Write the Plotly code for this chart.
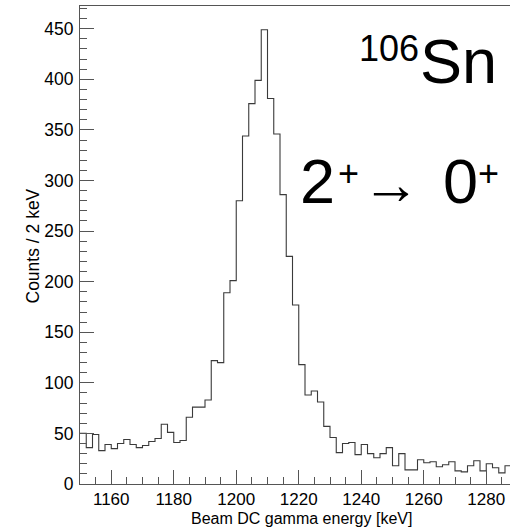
import plotly.graph_objects as go

# ---- data (counts per 2 keV bin, starting at 1150 keV) ----
bin_start = 1150
bin_width = 2
counts = [50, 36, 49, 33, 39, 35, 40, 44, 39, 36,
          38, 42, 45, 59, 51, 41, 43, 66, 76, 76,
          83, 122, 120, 189, 201, 280, 344, 376, 399, 449,
          381, 346, 286, 225, 177, 118, 88, 92, 81, 57,
          46, 31, 40, 41, 29, 39, 30, 26, 30, 36,
          18, 30, 14, 14, 24, 21, 22, 17, 19, 22,
          13, 12, 18, 23, 13, 20, 16, 11, 18]
x_tick_vals = [1160, 1180, 1200, 1220, 1240, 1260, 1280]
y_tick_vals = [0, 50, 100, 150, 200, 250, 300, 350, 400, 450]
x_title = "Beam DC gamma energy [keV]"
y_title = "Counts / 2 keV"

edges = [bin_start + i * bin_width for i in range(len(counts) + 1)]
ys = counts + [counts[-1]]

W, H = 510, 527
L, R, T, B = 80, 0, 6, 43
PW, PH = W - L - R, H - T - B
FONT = "Liberation Sans, Arial, Helvetica, sans-serif"
AX = "#555555"


def px(x):
    return (x - L) / PW


def py(y):
    return (H - B - y) / PH


fig = go.Figure()
fig.add_trace(go.Scatter(
    x=edges, y=ys, mode="lines", line=dict(shape="hv", color="#3a3a3a", width=1.1),
    hoverinfo="skip", showlegend=False))

fig.update_layout(
    width=W, height=H, margin=dict(l=L, r=R, t=T, b=B, pad=0),
    paper_bgcolor="white", plot_bgcolor="white",
    font=dict(family=FONT, size=17.5, color="black"),
    showlegend=False,
    xaxis=dict(range=[1150, 1287.6], tickmode="array", tickvals=x_tick_vals,
               ticks="inside", ticklen=14, tickwidth=1, tickcolor=AX,
               tickfont=dict(size=17),
               showline=True, linecolor=AX, linewidth=1, mirror=True,
               showgrid=False, zeroline=False, ticklabelstandoff=0,
               minor=dict(dtick=5, tick0=0, ticks="inside", ticklen=7, tickcolor=AX,
                          tickwidth=1, showgrid=False)),
    yaxis=dict(range=[0, 472.5], tickmode="array", tickvals=y_tick_vals,
               ticks="inside", ticklen=14, tickwidth=1, tickcolor=AX,
               showline=True, linecolor=AX, linewidth=1, mirror=False,
               showgrid=False, zeroline=False, ticklabelstandoff=2,
               minor=dict(dtick=10, tick0=0, ticks="inside", ticklen=7, tickcolor=AX,
                          tickwidth=1, showgrid=False)),
)

ann = []


def add_text(text, cx, cy, size, angle=0):
    ann.append(dict(text=text, x=px(cx), y=py(cy), xref="paper", yref="paper",
                    xanchor="center", yanchor="middle", showarrow=False,
                    textangle=angle, font=dict(family=FONT, size=size, color="black")))


add_text(x_title, 301.7, 518.0, 16)
add_text(y_title, 33, 246.5, 17.5, angle=-90)
add_text("106", 388.8, 48.3, 36)
add_text("Sn", 458.3, 60.8, 63)
add_text("2", 317.5, 180.8, 63)
add_text("+", 348, 173.5, 36)
add_text("→", 391, 183, 58)
add_text("0", 460, 180.8, 63)
add_text("+", 488.5, 173.5, 36)

fig.update_layout(annotations=ann)
fig.write_html("out.html")
